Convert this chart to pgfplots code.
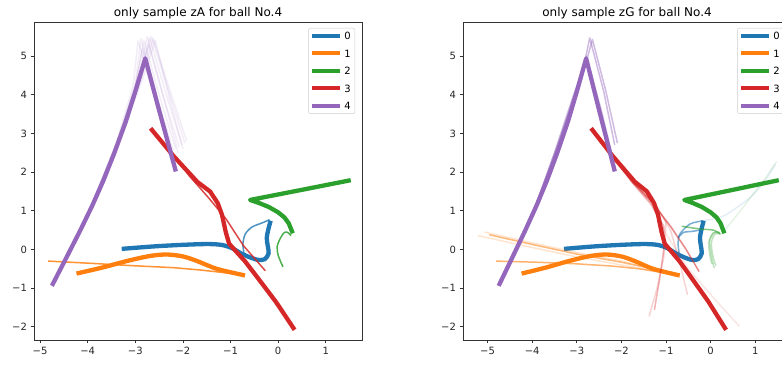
\documentclass[border=0pt]{standalone}
\usepackage{pgfplots}
\pgfplotsset{compat=1.18}
\usepackage{fontspec}
\setmainfont{DejaVu Sans}
\definecolor{c0}{HTML}{1F77B4}
\definecolor{c1}{HTML}{FF7F0E}
\definecolor{c2}{HTML}{2CA02C}
\definecolor{c3}{HTML}{D62728}
\definecolor{c4}{HTML}{9467BD}
\pgfplotsset{
  mainl/.style={line width=4.3pt, line cap=rect, line join=round},
  thinl/.style={line width=1.5pt, line join=round, forget plot},
  myaxis/.style={
    anchor=south west, width=328pt, height=318pt, scale only axis,
    ymin=-2.34, ymax=5.88,
    xtick={-5,-4,-3,-2,-1,0,1}, xticklabels={−5,−4,−3,−2,−1,0,1},
    ytick={-2,-1,0,1,2,3,4,5}, yticklabels={−2,−1,0,1,2,3,4,5},
    tick align=outside, tick pos=left, major tick length=3.5pt,
    axis line style={line width=0.8pt, black!80},
    tick style={line width=0.8pt, black!80},
    ticklabel style={font=\fontsize{10}{12}\selectfont, text=black!85},
    title style={font=\fontsize{12}{14}\selectfont, at={(0.5,1)}, anchor=south, yshift=-5pt, inner sep=2pt},
    legend style={at={(1,1)}, anchor=north east, xshift=-7pt, yshift=-6pt,
      draw=black!20, rounded corners=2pt, font=\fontsize{10}{12}\selectfont,
      inner xsep=2pt, inner ysep=2pt, row sep=6pt,
      nodes={inner sep=2pt, text height=7.5pt, text depth=0pt}},
    legend image code/.code={\draw[#1, line width=4pt, line cap=butt] (0pt,0pt) -- (28pt,0pt);},
    clip=true,
  }
}
\begin{document}
\begin{tikzpicture}
% ---------------- left panel ----------------
\begin{axis}[myaxis, at={(34pt,26pt)}, xmin=-5.126, xmax=1.76,
  title={only sample zA for ball No.4}]
% ball 0
\addplot[mainl, c0, smooth, tension=0.5] coordinates {(-3.24,0.02) (-2.6,0.08) (-2.0,0.12) (-1.5,0.14) (-1.2,0.12) (-0.98,0.04) (-0.78,-0.1) (-0.6,-0.2) (-0.42,-0.27) (-0.28,-0.25) (-0.2,-0.1) (-0.22,0.1) (-0.24,0.3) (-0.21,0.5) (-0.17,0.69)};
\addlegendentry{0}
\addplot[thinl, c0, opacity=0.8, smooth, tension=0.5] coordinates {(-0.72,-0.08) (-0.74,0.15) (-0.69,0.4) (-0.55,0.58) (-0.35,0.68) (-0.18,0.77)};
% ball 1
\addplot[mainl, c1, smooth, tension=0.5] coordinates {(-4.19,-0.61) (-3.7,-0.47) (-3.18,-0.30) (-2.7,-0.17) (-2.34,-0.13) (-2.0,-0.18) (-1.7,-0.3) (-1.29,-0.5) (-0.74,-0.66)};
\addlegendentry{1}
\addplot[thinl, c1, opacity=0.85] coordinates {(-4.83,-0.30) (-3.9,-0.36) (-3.04,-0.42) (-2.2,-0.47) (-1.64,-0.53) (-1.2,-0.59) (-0.74,-0.66)};
% ball 2
\addplot[mainl, c2] coordinates {(1.48,1.78) (0.45,1.53) (-0.59,1.28) (-0.4,1.2) (-0.2,1.1) (0.0,0.96) (0.13,0.83) (0.22,0.68) (0.29,0.47)};
\addlegendentry{2}
\addplot[thinl, c2, opacity=0.85, smooth, tension=0.5] coordinates {(0.27,0.36) (0.2,0.44) (0.13,0.44) (0.05,0.3) (-0.02,0.08) (0.0,-0.15) (0.1,-0.45)};
% ball 3
\addplot[mainl, c3] coordinates {(-2.65,3.09) (-2.2,2.42) (-1.7,1.75) (-1.43,1.5) (-1.27,1.2) (-1.18,0.9) (-1.1,0.45) (-1.03,0.15) (-0.95,0.04) (-0.7,-0.3) (-0.45,-0.7) (-0.05,-1.35) (0.32,-2.03)};
\addlegendentry{3}
\addplot[thinl, c3, opacity=0.85] coordinates {(-2.65,3.09) (-2.2,2.45) (-1.85,1.88) (-1.45,1.32) (-1.1,0.8) (-0.73,0.1) (-0.27,-0.55)};
% ball 4
\addplot[mainl, c4] coordinates {(-4.73,-0.89) (-4.45,-0.22) (-4.16,0.48) (-3.9,1.14) (-3.67,1.78) (-3.45,2.46) (-3.2,3.3) (-3.0,4.08) (-2.79,4.94) (-2.5,3.6) (-2.16,2.07)};
\addlegendentry{4}
\addplot[thinl, c4, opacity=0.12] coordinates {(-3.9,1.2) (-3.4,2.75) (-3.05,4.2) (-2.94,5.4) (-2.6,3.95) (-2.25,2.6)};
\addplot[thinl, c4, opacity=0.12] coordinates {(-3.9,1.2) (-3.4,2.7) (-3.0,4.25) (-2.88,5.45) (-2.55,3.95) (-2.2,2.55)};
\addplot[thinl, c4, opacity=0.12] coordinates {(-3.9,1.2) (-3.4,2.7) (-2.98,4.3) (-2.82,5.42) (-2.5,4.0) (-2.15,2.6)};
\addplot[thinl, c4, opacity=0.12] coordinates {(-3.9,1.2) (-3.38,2.7) (-2.95,4.3) (-2.75,5.5) (-2.42,4.0) (-2.08,2.65)};
\addplot[thinl, c4, opacity=0.12] coordinates {(-3.9,1.2) (-3.38,2.72) (-2.93,4.3) (-2.7,5.48) (-2.36,4.05) (-2.02,2.7)};
\addplot[thinl, c4, opacity=0.12] coordinates {(-3.9,1.2) (-3.36,2.72) (-2.9,4.35) (-2.66,5.5) (-2.3,4.1) (-1.96,2.75)};
\addplot[thinl, c4, opacity=0.12] coordinates {(-3.9,1.2) (-3.36,2.75) (-2.88,4.4) (-2.62,5.45) (-2.27,4.1) (-1.92,2.8)};
\addplot[thinl, c4, opacity=0.12] coordinates {(-3.9,1.2) (-3.35,2.75) (-2.86,4.35) (-2.58,5.4) (-2.3,4.0) (-2.0,2.6)};
\addplot[thinl, c4, opacity=0.12] coordinates {(-3.9,1.2) (-3.4,2.7) (-2.98,4.2) (-2.72,5.3) (-2.4,3.9) (-2.1,2.5)};
\addplot[thinl, c4, opacity=0.12] coordinates {(-3.9,1.2) (-3.42,2.65) (-3.02,4.1) (-2.85,5.2) (-2.55,3.85) (-2.28,2.55)};
\end{axis}
% ---------------- right panel ----------------
\begin{axis}[myaxis, at={(463pt,26pt)}, xmin=-5.55, xmax=1.8,
  title={only sample zG for ball No.4}]
% ball 0
\addplot[mainl, c0, smooth, tension=0.5] coordinates {(-3.24,0.02) (-2.6,0.08) (-2.0,0.12) (-1.5,0.14) (-1.2,0.12) (-0.98,0.04) (-0.78,-0.1) (-0.6,-0.2) (-0.42,-0.27) (-0.28,-0.25) (-0.2,-0.1) (-0.22,0.1) (-0.24,0.3) (-0.21,0.5) (-0.17,0.69)};
\addlegendentry{0}
\addplot[thinl, c0, opacity=0.6, smooth, tension=0.5] coordinates {(-0.69,-0.2) (-0.73,0.14) (-0.69,0.4) (-0.46,0.66) (-0.17,0.74)};
\addplot[thinl, c0, opacity=0.6, smooth, tension=0.5] coordinates {(-0.73,0.3) (-0.61,0.44) (-0.4,0.47) (-0.2,0.53) (-0.15,0.72)};
\addplot[thinl, c0, opacity=0.12, smooth, tension=0.5] coordinates {(-0.17,0.74) (0.1,0.8) (0.36,0.91) (0.88,1.34) (1.2,1.75) (1.45,2.2)};
% ball 1
\addplot[mainl, c1, smooth, tension=0.5] coordinates {(-4.19,-0.61) (-3.7,-0.47) (-3.18,-0.30) (-2.7,-0.17) (-2.34,-0.13) (-2.0,-0.18) (-1.7,-0.3) (-1.29,-0.5) (-0.74,-0.66)};
\addlegendentry{1}
\addplot[thinl, c1, opacity=0.6] coordinates {(-4.81,-0.30) (-3.9,-0.33) (-3.02,-0.37) (-2.2,-0.43) (-1.6,-0.5) (-0.74,-0.66)};
\addplot[thinl, c1, opacity=0.55] coordinates {(-4.96,0.38) (-4.0,0.13) (-3.0,-0.12) (-2.0,-0.33) (-1.3,-0.5) (-0.74,-0.65)};
\addplot[thinl, c1, opacity=0.2] coordinates {(-5.22,0.36) (-4.2,0.1) (-3.1,-0.17) (-2.1,-0.38) (-1.3,-0.54) (-0.74,-0.66)};
\addplot[thinl, c1, opacity=0.2] coordinates {(-5.07,0.45) (-4.0,0.17) (-3.0,-0.08) (-2.0,-0.3) (-1.3,-0.48) (-0.74,-0.64)};
% ball 2
\addplot[mainl, c2] coordinates {(1.48,1.78) (0.45,1.53) (-0.59,1.28) (-0.4,1.2) (-0.2,1.1) (0.0,0.96) (0.13,0.83) (0.22,0.68) (0.29,0.47)};
\addlegendentry{2}
\addplot[thinl, c2, opacity=0.6, smooth, tension=0.5] coordinates {(-0.65,0.6) (-0.24,0.53) (0.06,0.5) (0.21,0.4)};
\addplot[thinl, c2, opacity=0.3, smooth, tension=0.5] coordinates {(0.21,0.42) (0.08,0.44) (-0.02,0.23) (0.0,-0.05) (0.04,-0.3) (0.08,-0.48)};
\addplot[thinl, c2, opacity=0.3, smooth, tension=0.5] coordinates {(0.24,0.4) (0.1,0.4) (0.02,0.2) (0.03,-0.05) (0.08,-0.3) (0.12,-0.42)};
\addplot[thinl, c2, opacity=0.3, smooth, tension=0.5] coordinates {(0.2,0.45) (0.05,0.42) (-0.04,0.2) (-0.03,-0.05) (0.0,-0.25) (0.03,-0.38)};
\addplot[thinl, c2, opacity=0.12] coordinates {(0.29,0.47) (0.6,0.9) (0.9,1.35) (1.2,1.8) (1.48,2.28)};
% ball 3
\addplot[mainl, c3] coordinates {(-2.65,3.09) (-2.2,2.42) (-1.7,1.75) (-1.43,1.5) (-1.27,1.2) (-1.18,0.9) (-1.1,0.45) (-1.03,0.15) (-0.95,0.04) (-0.7,-0.3) (-0.45,-0.7) (-0.05,-1.35) (0.32,-2.03)};
\addlegendentry{3}
\addplot[thinl, c3, opacity=0.55] coordinates {(-2.65,3.09) (-2.2,2.42) (-1.75,1.75) (-1.3,1.2) (-0.9,0.6) (-0.55,0.0) (-0.26,-0.57)};
\addplot[thinl, c3, opacity=0.35] coordinates {(-2.65,3.09) (-2.2,2.4) (-1.75,1.72) (-1.35,1.2) (-1.05,0.6) (-1.05,0.0) (-1.15,-0.8) (-1.26,-1.56)};
\addplot[thinl, c3, opacity=0.2] coordinates {(-2.65,3.09) (-2.2,2.4) (-1.75,1.74) (-1.3,1.25) (-1.0,0.7) (-1.05,-0.2) (-1.2,-1.0) (-1.38,-1.73)};
\addplot[thinl, c3, opacity=0.2] coordinates {(-2.65,3.09) (-2.2,2.4) (-1.75,1.73) (-1.2,1.1) (-0.9,0.5) (-0.7,-0.3) (-0.52,-1.17)};
\addplot[thinl, c3, opacity=0.12] coordinates {(-2.65,3.09) (-2.2,2.4) (-1.75,1.72) (-1.3,1.1) (-1.0,0.4) (-0.5,-0.5) (0.1,-1.3) (0.64,-1.98)};
% ball 4
\addplot[mainl, c4] coordinates {(-4.73,-0.89) (-4.45,-0.22) (-4.16,0.48) (-3.9,1.14) (-3.67,1.78) (-3.45,2.46) (-3.2,3.3) (-3.0,4.08) (-2.79,4.94) (-2.5,3.6) (-2.16,2.07)};
\addlegendentry{4}
\addplot[thinl, c4, opacity=0.45] coordinates {(-3.9,1.2) (-3.5,2.5) (-3.1,3.9) (-2.85,4.7) (-2.71,5.47) (-2.4,4.1) (-2.15,2.7)};
\addplot[thinl, c4, opacity=0.45] coordinates {(-3.9,1.2) (-3.45,2.6) (-3.05,4.0) (-2.8,4.8) (-2.65,5.43) (-2.35,4.1) (-2.09,2.75)};
\addplot[thinl, c4, opacity=0.35] coordinates {(-3.9,1.2) (-3.4,2.8) (-3.0,4.1) (-2.78,4.95) (-2.45,3.6) (-2.2,2.4)};
\end{axis}
\pgfresetboundingbox
\useasboundingbox (0pt,0pt) rectangle (782pt,366pt);
\end{tikzpicture}
\end{document}
